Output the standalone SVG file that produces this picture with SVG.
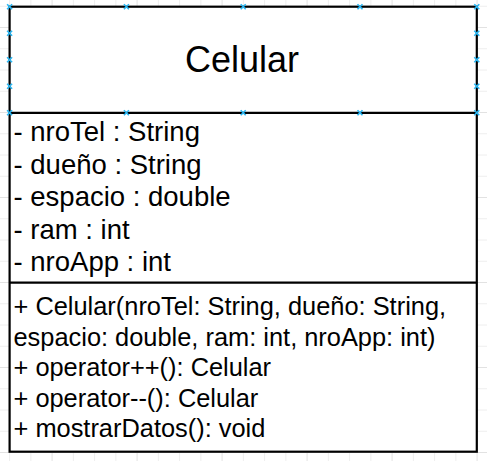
<svg xmlns="http://www.w3.org/2000/svg" width="487" height="461" viewBox="0 0 487 461">
<defs>
<style>
.gmin{stroke:#eeeeee;stroke-width:1}
.gmaj{stroke:#e2e2e2;stroke-width:1}
.box{fill:#ffffff;stroke:#000000;stroke-width:2.2}
.sep{stroke:#000000;stroke-width:2.2;fill:none}
.a{font-family:"Liberation Sans",Arial,sans-serif;font-size:27.5px;fill:#000000}
.m{font-family:"Liberation Sans",Arial,sans-serif;font-size:25.4px;fill:#000000}
.title{font-family:"Liberation Sans",Arial,sans-serif;font-size:36px;fill:#000000;text-anchor:middle}
.h{stroke:#29b6f2;stroke-width:1.6;fill:none}
</style>
<path id="hx" d="M-2.5,-2.5L2.5,2.5M-2.5,2.5L2.5,-2.5"/>
</defs>
<rect width="487" height="461" fill="#ffffff"/>
<g id="grid">
<path class="gmin" d="M30.85,0V461M73.35,0V461M94.6,0V461M115.85,0V461M158.35,0V461M179.6,0V461M200.85,0V461M243.35,0V461M264.6,0V461M285.85,0V461M328.35,0V461M349.6,0V461M370.85,0V461M413.35,0V461M434.6,0V461M455.85,0V461M9.6,0V461M0,6.25H487M0,48.75H487M0,70H487M0,91.25H487M0,133.75H487M0,155H487M0,176.25H487M0,218.75H487M0,240H487M0,261.25H487M0,303.75H487M0,325H487M0,346.25H487M0,388.75H487M0,410H487M0,431.25H487"/>
<path class="gmaj" d="M52.1,0V461M137.1,0V461M222.1,0V461M307.1,0V461M392.1,0V461M477.1,0V461M0,27.5H487M0,112.5H487M0,197.5H487M0,282.5H487M0,367.5H487M0,452.5H487"/>
</g>
<g id="Celular">
<rect class="box" x="9.6" y="6.7" width="467.2" height="445"/>
<line class="sep" x1="9.6" y1="112.8" x2="476.8" y2="112.8"/>
<line class="sep" x1="9.6" y1="282.7" x2="476.8" y2="282.7"/>
<text class="title" x="242" y="72">Celular</text>
<text class="a" x="13.5" y="141">- nroTel : String</text>
<text class="a" x="13.5" y="173.5">- dueño : String</text>
<text class="a" x="13.5" y="206">- espacio : double</text>
<text class="a" x="13.5" y="238.5">- ram : int</text>
<text class="a" x="13.5" y="271">- nroApp : int</text>
<text class="m" x="13.5" y="315">+ Celular(nroTel: String, dueño: String,</text>
<text class="m" x="13.5" y="345.5">espacio: double, ram: int, nroApp: int)</text>
<text class="m" x="13.5" y="376">+ operator++(): Celular</text>
<text class="m" x="13.5" y="406.5">+ operator--(): Celular</text>
<text class="m" x="13.5" y="437">+ mostrarDatos(): void</text>
</g>
<g id="handles">
<use href="#hx" class="h" x="9.6" y="6.7"/>
<use href="#hx" class="h" x="126.4" y="6.7"/>
<use href="#hx" class="h" x="243.2" y="6.7"/>
<use href="#hx" class="h" x="360" y="6.7"/>
<use href="#hx" class="h" x="476.8" y="6.7"/>
<use href="#hx" class="h" x="9.6" y="112.8"/>
<use href="#hx" class="h" x="126.4" y="112.8"/>
<use href="#hx" class="h" x="243.2" y="112.8"/>
<use href="#hx" class="h" x="360" y="112.8"/>
<use href="#hx" class="h" x="476.8" y="112.8"/>
<use href="#hx" class="h" x="9.6" y="33.2"/>
<use href="#hx" class="h" x="9.6" y="59.8"/>
<use href="#hx" class="h" x="9.6" y="86.3"/>
<use href="#hx" class="h" x="476.8" y="33.2"/>
<use href="#hx" class="h" x="476.8" y="59.8"/>
<use href="#hx" class="h" x="476.8" y="86.3"/>
</g>
</svg>
